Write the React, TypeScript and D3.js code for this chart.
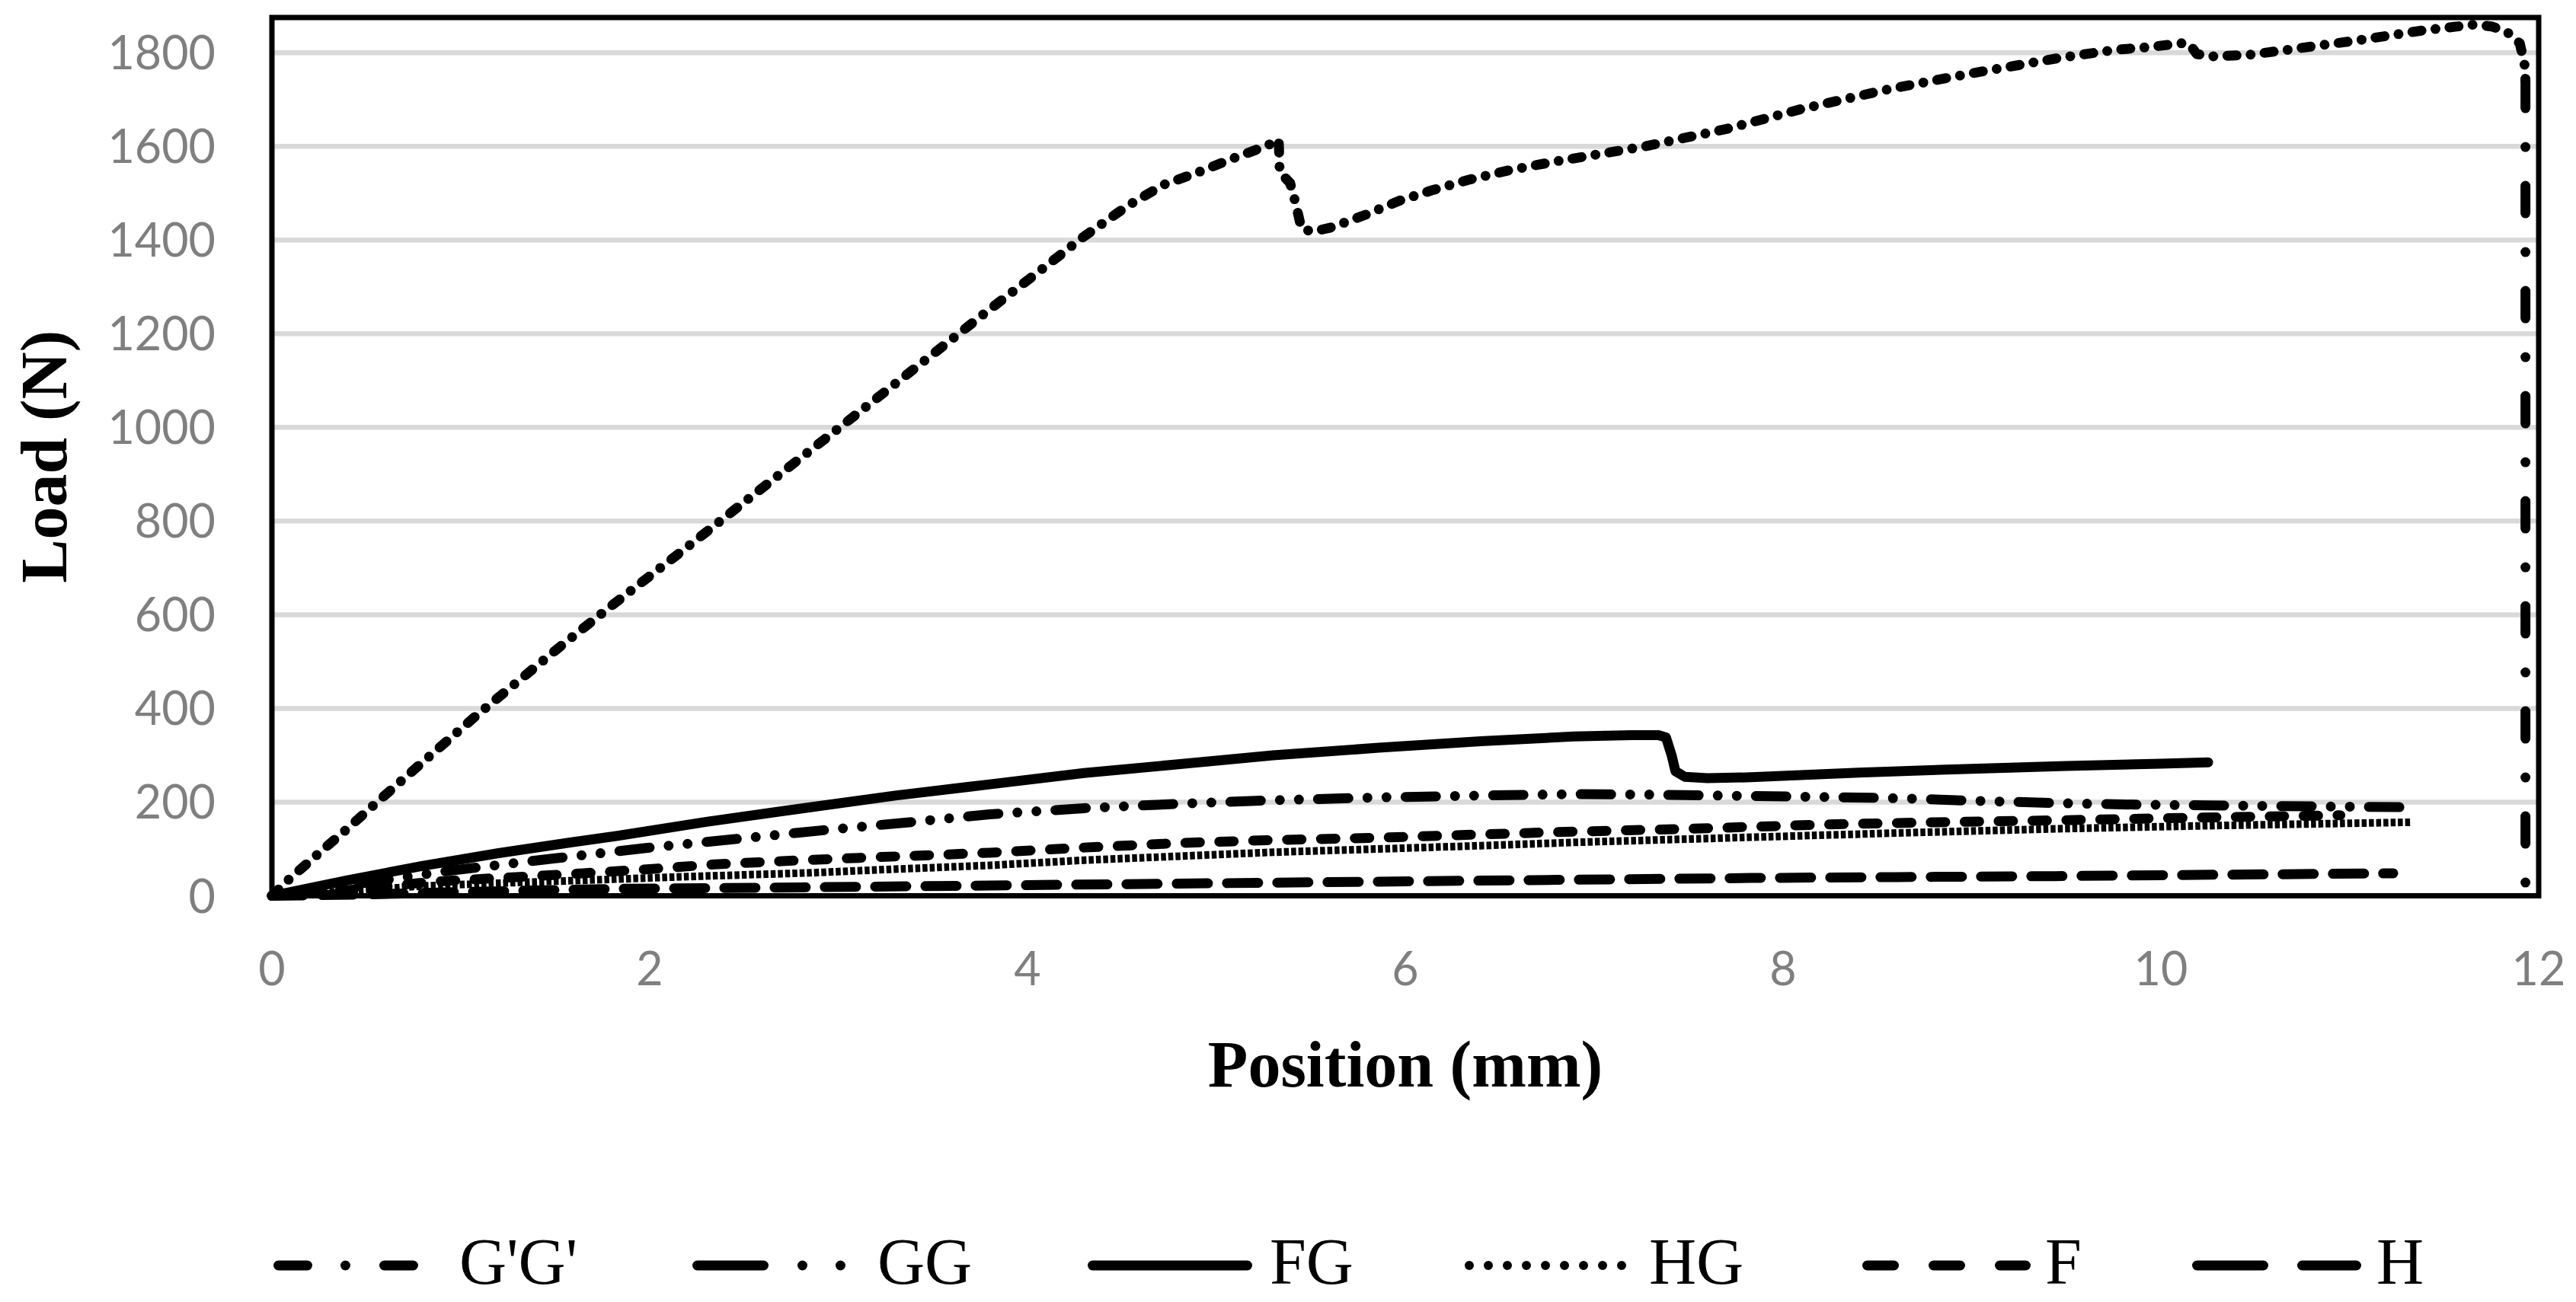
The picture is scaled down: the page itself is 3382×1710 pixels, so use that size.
import * as d3 from "d3";
import React from "react";

type Pt = [number, number];

// position (mm), load (N)
const gPrimeGPrime: Pt[] = [
	[0, 0], [0.1, 39], [0.19, 70], [0.28, 102], [0.39, 140], [0.54, 194], [0.8, 286],
	[1.08, 384], [1.52, 530], [1.8, 620], [2.2, 745], [2.6, 872], [3.0, 998], [3.4, 1125],
	[3.8, 1252], [4.1, 1345], [4.29, 1405], [4.53, 1473], [4.72, 1518], [4.9, 1544],
	[5.08, 1573], [5.26, 1600], [5.33, 1614], [5.335, 1545], [5.39, 1522], [5.42, 1478],
	[5.45, 1424], [5.51, 1418], [5.61, 1427], [5.79, 1454], [5.97, 1484], [6.14, 1506],
	[6.33, 1528], [6.55, 1549], [6.8, 1568], [7.27, 1600], [7.7, 1637], [8.1, 1680], [8.56, 1722],
	[9.0, 1756], [9.48, 1790], [9.76, 1806], [9.94, 1812], [10.11, 1820], [10.15, 1819],
	[10.19, 1797], [10.27, 1792], [10.46, 1795], [10.67, 1806], [10.85, 1816], [11.02, 1825],
	[11.2, 1836], [11.38, 1847], [11.55, 1855], [11.66, 1860], [11.75, 1856], [11.83, 1845],
	[11.9, 1820], [11.925, 1775], [11.93, 1740], [11.93, 0],
];

const gg: Pt[] = [
	[0, 0], [0.25, 14], [0.5, 28], [0.93, 53], [1.5, 80], [1.98, 102], [2.5, 123], [2.92, 140],
	[3.4, 158], [3.8, 174], [4.3, 187], [4.83, 197], [5.3, 204], [5.86, 210], [6.4, 214],
	[6.89, 217], [7.3, 216], [7.83, 213], [8.2, 211], [8.64, 208], [9.0, 203], [9.44, 198],
	[9.8, 195], [10.24, 193], [10.8, 191], [11.33, 189],
];

const fg: Pt[] = [
	[0, 0], [0.4, 33], [0.8, 64], [1.2, 91], [1.6, 115], [1.83, 128], [2.3, 158], [2.85, 189],
	[3.3, 214], [3.8, 238], [4.3, 262], [4.83, 282], [5.3, 300], [5.86, 316], [6.4, 330],
	[6.89, 340], [7.2, 343], [7.34, 343], [7.38, 338], [7.41, 300], [7.43, 266], [7.48, 254],
	[7.6, 251], [7.83, 253], [8.4, 263], [8.9, 270], [9.5, 277], [10.0, 282], [10.25, 285],
];

const hg: Pt[] = [
	[0, 0], [0.4, 10], [0.8, 21], [1.2, 27], [1.57, 32], [2.2, 41], [2.85, 49], [3.3, 57],
	[3.8, 65], [4.3, 76], [4.83, 85], [5.3, 93], [5.86, 100], [6.4, 107], [6.89, 114],
	[7.4, 120], [7.83, 125], [8.6, 134], [9.44, 143], [10.3, 150], [11.32, 157],
];

const f: Pt[] = [
	[0, 0], [0.4, 12], [0.85, 30], [1.2, 38], [1.57, 46], [2.0, 57], [2.34, 67], [2.7, 74],
	[3.11, 81], [3.5, 87], [3.8, 92], [4.3, 103], [4.83, 113], [5.3, 119], [5.86, 124],
	[6.4, 131], [6.89, 137], [7.3, 141], [7.66, 145], [8.2, 152], [8.8, 157], [9.44, 161],
	[10.2, 167], [10.95, 172],
];

const h: Pt[] = [
	[0, 0], [0.5, 3], [1.0, 8], [1.83, 15], [2.8, 18], [3.8, 22], [4.8, 26], [5.8, 30],
	[6.8, 34], [7.83, 38], [8.6, 40], [9.44, 42], [10.3, 45], [11.23, 48],
];

const seriesNames = ["G'G'", "GG", "FG", "HG", "F", "H"];
const seriesData = [gPrimeGPrime, gg, fg, hg, f, h];

const xTicks = [0, 2, 4, 6, 8, 10, 12];
const yTicks = [0, 200, 400, 600, 800, 1000, 1200, 1400, 1600, 1800];

// line looks: plot dashes and legend key dashes
const lineStyles = [
	{ width: 13, cap: "round", dash: "12 18.5 0 18.5", key: "38 50 0 51", keyW: 13 },
	{ width: 13, cap: "round", dash: "40 25 0 25 0 25", key: "87 51 0 50 0 51", keyW: 13 },
	{ width: 13, cap: "round", dash: "none", key: "none", keyW: 13 },
	{ width: 10, cap: "butt", dash: "6.5 3", key: "0 25", keyW: 12 },
	{ width: 13, cap: "round", dash: "19 25.5", key: "35 52", keyW: 13 },
	{ width: 13, cap: "round", dash: "41 25", key: "87 51", keyW: 13 },
];
// long dash-dot for the final drop of G'G'
const dropDash = "36 51 0 51";

const legendKeys = [
	{ x1: 365.5, x2: 543, tx: 603 },
	{ x1: 915.5, x2: 1104.5, tx: 1152 },
	{ x1: 1434.5, x2: 1637.5, tx: 1667 },
	{ x1: 1929, x2: 2129.5, tx: 2165 },
	{ x1: 2451.5, x2: 2659.5, tx: 2685 },
	{ x1: 2884.5, x2: 3093.5, tx: 3120 },
];

const W = 3382;
const H = 1710;
const plot = { left: 357, right: 3333, top: 23, bottom: 1176.5 };

const tickFont = "Lato, 'Open Sans', sans-serif";
const serif = "'Liberation Serif', 'Times New Roman', serif";

export default function App() {
	const x = d3.scaleLinear().domain([0, 12]).range([plot.left, plot.right]);
	const y = d3.scaleLinear().domain([0, 1875]).range([plot.bottom, plot.top]);
	const line = d3
		.line<Pt>()
		.x((d) => x(d[0]))
		.y((d) => y(d[1]));

	return (
		<svg
			width={W}
			height={H}
			viewBox={`0 0 ${W} ${H}`}
			style={{ position: "absolute", left: 0, top: 0, background: "#fff" }}
		>
			<rect x={0} y={0} width={W} height={H} fill="#fff" />

			{/* gridlines */}
			{yTicks
				.filter((t) => t > 0)
				.map((t) => (
					<line
						key={"g" + t}
						x1={plot.left}
						x2={plot.right}
						y1={y(t)}
						y2={y(t)}
						stroke="#d9d9d9"
						strokeWidth={6.5}
					/>
				))}

			{/* plot border */}
			<rect
				x={plot.left}
				y={plot.top}
				width={plot.right - plot.left}
				height={plot.bottom - plot.top}
				fill="none"
				stroke="#000"
				strokeWidth={7}
			/>

			{/* y tick labels */}
			{yTicks.map((t) => (
				<text
					key={"y" + t}
					x={283}
					y={y(t) + 22}
					textAnchor="end"
					fontFamily={tickFont}
					fontSize={61}
					fill="#7f7f7f"
				>
					{t}
				</text>
			))}

			{/* x tick labels */}
			{xTicks.map((t) => (
				<text
					key={"x" + t}
					x={x(t)}
					y={1294}
					textAnchor="middle"
					fontFamily={tickFont}
					fontSize={61}
					fill="#7f7f7f"
				>
					{t}
				</text>
			))}

			{/* series */}
			{seriesData.map((data, i) => {
				const s = lineStyles[i];
				const main = i === 0 ? data.slice(0, data.length - 1) : data;
				return (
					<g key={seriesNames[i]}>
						<path
							d={line(main) ?? ""}
							fill="none"
							stroke="#000"
							strokeWidth={s.width}
							strokeLinecap={s.cap as any}
							strokeLinejoin="round"
							strokeDasharray={s.dash}
						/>
						{i === 0 && (
							<path
								d={line(data.slice(data.length - 2)) ?? ""}
								fill="none"
								stroke="#000"
								strokeWidth={s.width}
								strokeLinecap="round"
								strokeDasharray={dropDash}
							/>
						)}
					</g>
				);
			})}

			{/* axis titles */}
			<text
				x={(plot.left + plot.right) / 2}
				y={1427}
				textAnchor="middle"
				fontFamily={serif}
				fontWeight="bold"
				fontSize={86}
				fill="#000"
			>
				Position (mm)
			</text>
			<text
				transform={`translate(87, ${(plot.top + plot.bottom) / 2}) rotate(-90)`}
				textAnchor="middle"
				fontFamily={serif}
				fontWeight="bold"
				fontSize={86}
				fill="#000"
			>
				Load (N)
			</text>

			{/* legend */}
			{seriesNames.map((name, i) => {
				const k = legendKeys[i];
				const s = lineStyles[i];
				return (
					<g key={"l" + name}>
						<line
							x1={k.x1}
							x2={k.x2}
							y1={1662}
							y2={1662}
							stroke="#000"
							strokeWidth={s.keyW}
							strokeLinecap="round"
							strokeDasharray={s.key}
						/>
						<text x={k.tx} y={1686} fontFamily={serif} fontSize={86} fill="#000">
							{name}
						</text>
					</g>
				);
			})}
		</svg>
	);
}
